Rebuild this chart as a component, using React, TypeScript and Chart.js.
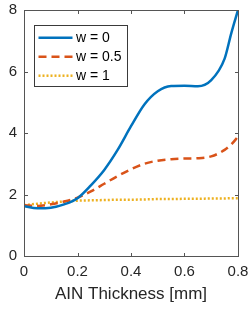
import React, { useEffect, useRef } from "react";
import { Chart, registerables } from "chart.js";

Chart.register(...registerables);

const xs = [0, 0.05, 0.1, 0.15, 0.2, 0.25, 0.3, 0.35, 0.4, 0.45, 0.5, 0.55, 0.6, 0.65, 0.7, 0.75, 0.775, 0.8];
const w0 = [1.62, 1.55, 1.57, 1.68, 1.88, 2.3, 2.8, 3.45, 4.22, 4.93, 5.36, 5.53, 5.54, 5.52, 5.72, 6.42, 7.25, 8.0];
const w05 = [1.65, 1.63, 1.68, 1.77, 1.9, 2.1, 2.35, 2.6, 2.82, 3.0, 3.1, 3.15, 3.17, 3.18, 3.24, 3.45, 3.63, 3.88];
const w1 = [1.65, 1.7, 1.74, 1.77, 1.8, 1.81, 1.82, 1.83, 1.83, 1.84, 1.85, 1.85, 1.86, 1.86, 1.87, 1.87, 1.88, 1.88];
const seriesLabels = ["w = 0", "w = 0.5", "w = 1"];
const xTicks = [0, 0.2, 0.4, 0.6, 0.8];
const xTickLabels = ["0", "0.2", "0.4", "0.6", "0.8"];
const yTicks = [0, 2, 4, 6, 8];
const xTitle = "AIN Thickness [mm]";

const FONT = "'Liberation Sans', Arial, Helvetica, sans-serif";
const AXIS = "#262626";
const BOX = "#555555";

const boxPlugin = {
  id: "boxPlugin",
  afterDraw(chart: any) {
    const { ctx, chartArea, scales } = chart;
    const left = Math.round(chartArea.left);
    const right = Math.round(chartArea.right);
    const top = Math.round(chartArea.top);
    const bottom = Math.round(chartArea.bottom);
    ctx.save();
    ctx.globalAlpha = 1;
    ctx.globalCompositeOperation = "source-over";
    ctx.fillStyle = BOX;
    ctx.fillRect(left, top, right - left + 1, 1);
    ctx.fillRect(left, bottom, right - left + 1, 1);
    ctx.fillRect(left, top, 1, bottom - top + 1);
    ctx.fillRect(right, top, 1, bottom - top + 1);
    const tl = 3;
    xTicks.forEach((v) => {
      const px = Math.round(scales.x.getPixelForValue(v));
      ctx.fillRect(px, bottom - tl, 1, tl);
      ctx.fillRect(px, top + 1, 1, tl);
    });
    yTicks.forEach((v) => {
      const py = Math.round(scales.y.getPixelForValue(v));
      ctx.fillRect(left + 1, py, tl, 1);
      ctx.fillRect(right - tl, py, tl, 1);
    });

    // legend
    const lx = 34.5, ly = 25.5, lw = 93, lh = 61;
    ctx.fillStyle = "#ffffff";
    ctx.fillRect(lx, ly, lw, lh);
    ctx.strokeStyle = "#3a3a3a";
    ctx.lineWidth = 1;
    ctx.strokeRect(lx, ly, lw, lh);
    const rows = [37.7, 56.7, 75.7];
    chart.data.datasets.forEach((ds: any, i: number) => {
      const y = rows[i];
      ctx.save();
      ctx.strokeStyle = ds.borderColor;
      ctx.lineWidth = ds.borderWidth;
      ctx.setLineDash(ds.borderDash || []);
      ctx.beginPath();
      ctx.moveTo(38.5, y);
      ctx.lineTo(72.5, y);
      ctx.stroke();
      ctx.restore();
      ctx.fillStyle = "#000000";
      ctx.font = `14px ${FONT}`;
      ctx.textBaseline = "middle";
      ctx.textAlign = "left";
      ctx.fillText(ds.label, 76, y + 0.5);
    });
    ctx.restore();
  },
};

export default function App() {
  const ref = useRef<HTMLCanvasElement>(null);
  useEffect(() => {
    if (!ref.current) return;
    const mk = (ys: number[]) => xs.map((x, i) => ({ x, y: ys[i] }));
    const chart = new Chart(ref.current, {
      type: "line",
      data: {
        datasets: [
          { label: seriesLabels[0], data: mk(w0), borderColor: "#0072BD", borderWidth: 2.5, pointRadius: 0, cubicInterpolationMode: "monotone", fill: false },
          { label: seriesLabels[1], data: mk(w05), borderColor: "#D95319", borderWidth: 2.5, borderDash: [8, 5], pointRadius: 0, cubicInterpolationMode: "monotone", fill: false },
          { label: seriesLabels[2], data: mk(w1), borderColor: "#EDB120", borderWidth: 2.5, borderDash: [2, 2], pointRadius: 0, cubicInterpolationMode: "monotone", fill: false },
        ],
      },
      options: {
        animation: false,
        responsive: false,
        devicePixelRatio: 1,
        layout: { padding: { top: 10, right: 11, left: 0, bottom: 0 } },
        plugins: { legend: { display: false }, tooltip: { enabled: false } },
        scales: {
          x: {
            type: "linear",
            min: 0,
            max: 0.8,
            afterFit: (s: any) => { s.height = 53; s.paddingLeft = 0; s.paddingRight = 0; },
            afterBuildTicks: (s: any) => { s.ticks = xTicks.map((v) => ({ value: v })); },
            ticks: {
              callback: (v: any) => xTickLabels[xTicks.indexOf(Math.round(Number(v) * 10) / 10)] ?? "",
              font: { family: FONT, size: 15 },
              color: AXIS,
              padding: 7,
              maxRotation: 0,
            },
            grid: { display: false, drawTicks: false },
            border: { display: false },
            title: { display: true, text: xTitle, font: { family: FONT, size: 17 }, color: AXIS, padding: { top: 0, bottom: 4 } },
          },
          y: {
            min: 0,
            max: 8,
            afterFit: (s: any) => { s.width = 24; s.paddingTop = 0; s.paddingBottom = 0; },
            afterBuildTicks: (s: any) => { s.ticks = yTicks.map((v) => ({ value: v })); },
            ticks: { font: { family: FONT, size: 15 }, color: AXIS, padding: 7 },
            grid: { display: false, drawTicks: false },
            border: { display: false },
          },
        },
      },
      plugins: [boxPlugin],
    });
    return () => chart.destroy();
  }, []);
  return (
    <div style={{ position: "absolute", left: 0, top: 0, width: 249, height: 309, background: "#fff" }}>
      <canvas ref={ref} width={249} height={309} style={{ width: 249, height: 309, display: "block" }} />
    </div>
  );
}
